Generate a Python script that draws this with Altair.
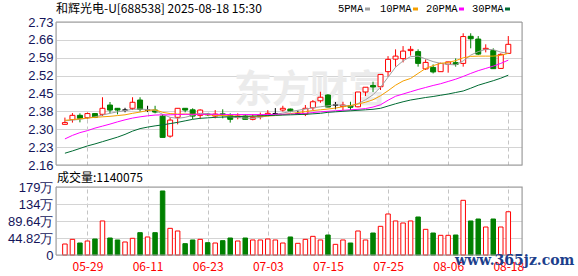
import json
import altair as alt
import pandas as pd

# ---------------- data ----------------
dates = ["05-26", "05-27", "05-28", "05-29", "05-30", "06-03", "06-04", "06-05", "06-06", "06-09",
         "06-10", "06-11", "06-12", "06-13", "06-16", "06-17", "06-18", "06-19", "06-20", "06-23",
         "06-24", "06-25", "06-26", "06-27", "06-30", "07-01", "07-02", "07-03", "07-04", "07-07",
         "07-08", "07-09", "07-10", "07-11", "07-14", "07-15", "07-16", "07-17", "07-18", "07-21",
         "07-22", "07-23", "07-24", "07-25", "07-28", "07-29", "07-30", "07-31", "08-01", "08-04",
         "08-05", "08-06", "08-07", "08-08", "08-11", "08-12", "08-13", "08-14", "08-15", "08-18"]

opens = [2.322, 2.341, 2.358, 2.349, 2.365, 2.362, 2.399, 2.386, 2.379, 2.386,
         2.419, 2.379, 2.379, 2.355, 2.275, 2.350, 2.386, 2.380, 2.358, 2.363,
         2.355, 2.364, 2.357, 2.350, 2.355, 2.342, 2.353, 2.359, 2.365, 2.379,
         2.383, 2.365, 2.363, 2.388, 2.416, 2.439, 2.399, 2.393, 2.397, 2.392,
         2.451, 2.477, 2.472, 2.532, 2.582, 2.584, 2.616, 2.612, 2.543, 2.549,
         2.532, 2.562, 2.568, 2.565, 2.673, 2.662, 2.621, 2.616, 2.545, 2.605]
highs = [2.349, 2.367, 2.366, 2.369, 2.367, 2.430, 2.411, 2.387, 2.388, 2.430,
         2.430, 2.396, 2.396, 2.362, 2.350, 2.386, 2.386, 2.386, 2.382, 2.366,
         2.379, 2.382, 2.366, 2.366, 2.362, 2.363, 2.369, 2.379, 2.387, 2.396,
         2.385, 2.377, 2.399, 2.419, 2.452, 2.442, 2.411, 2.412, 2.412, 2.451,
         2.470, 2.492, 2.521, 2.594, 2.621, 2.634, 2.634, 2.621, 2.581, 2.561,
         2.568, 2.571, 2.585, 2.685, 2.685, 2.674, 2.641, 2.625, 2.605, 2.674]
lows = [2.322, 2.329, 2.330, 2.343, 2.347, 2.355, 2.366, 2.362, 2.370, 2.379,
        2.373, 2.371, 2.366, 2.270, 2.269, 2.322, 2.370, 2.343, 2.343, 2.356,
        2.346, 2.346, 2.329, 2.342, 2.342, 2.338, 2.342, 2.355, 2.360, 2.373,
        2.370, 2.361, 2.355, 2.379, 2.408, 2.390, 2.382, 2.379, 2.379, 2.390,
        2.435, 2.451, 2.459, 2.512, 2.552, 2.569, 2.596, 2.552, 2.539, 2.525,
        2.532, 2.528, 2.552, 2.552, 2.625, 2.598, 2.609, 2.543, 2.545, 2.605]
closes = [2.329, 2.358, 2.346, 2.365, 2.350, 2.386, 2.379, 2.379, 2.379, 2.410,
          2.382, 2.379, 2.371, 2.270, 2.339, 2.386, 2.379, 2.355, 2.379, 2.360,
          2.363, 2.361, 2.342, 2.355, 2.342, 2.350, 2.359, 2.366, 2.365, 2.386,
          2.375, 2.365, 2.386, 2.412, 2.430, 2.391, 2.399, 2.399, 2.390, 2.451,
          2.470, 2.471, 2.521, 2.581, 2.594, 2.614, 2.621, 2.565, 2.569, 2.531,
          2.565, 2.571, 2.561, 2.672, 2.663, 2.602, 2.625, 2.544, 2.601, 2.641]

ma5 = [2.336, 2.339, 2.342, 2.347, 2.352, 2.359, 2.366, 2.372, 2.377, 2.382,
       2.383, 2.381, 2.378, 2.362, 2.350, 2.346, 2.350, 2.358, 2.366, 2.364,
       2.361, 2.356, 2.352, 2.349, 2.347, 2.346, 2.350, 2.356, 2.362, 2.367,
       2.373, 2.378, 2.383, 2.388, 2.392, 2.396, 2.400, 2.398, 2.395, 2.405,
       2.420, 2.440, 2.470, 2.510, 2.550, 2.575, 2.592, 2.594, 2.583, 2.572,
       2.565, 2.561, 2.559, 2.575, 2.598, 2.612, 2.621, 2.620, 2.610, 2.605]
ma10 = [2.338, 2.341, 2.344, 2.347, 2.350, 2.352, 2.354, 2.357, 2.360, 2.366,
        2.371, 2.377, 2.380, 2.370, 2.365, 2.363, 2.363, 2.362, 2.362, 2.360,
        2.358, 2.357, 2.356, 2.355, 2.354, 2.354, 2.354, 2.355, 2.357, 2.361,
        2.365, 2.369, 2.373, 2.377, 2.380, 2.383, 2.387, 2.392, 2.397, 2.403,
        2.410, 2.420, 2.436, 2.456, 2.478, 2.495, 2.505, 2.525, 2.545, 2.556,
        2.565, 2.569, 2.576, 2.587, 2.593, 2.594, 2.594, 2.594, 2.597, 2.605]
ma20 = [2.264, 2.278, 2.289, 2.297, 2.307, 2.315, 2.323, 2.332, 2.340, 2.347,
        2.352, 2.356, 2.359, 2.360, 2.360, 2.361, 2.362, 2.362, 2.362, 2.362,
        2.362, 2.362, 2.361, 2.361, 2.361, 2.361, 2.361, 2.361, 2.362, 2.362,
        2.363, 2.364, 2.366, 2.369, 2.372, 2.374, 2.376, 2.378, 2.380, 2.382,
        2.385, 2.391, 2.400, 2.418, 2.434, 2.443, 2.452, 2.461, 2.469, 2.477,
        2.484, 2.493, 2.502, 2.513, 2.525, 2.536, 2.545, 2.554, 2.565, 2.578]
ma30 = [2.207, 2.216, 2.226, 2.236, 2.244, 2.253, 2.262, 2.271, 2.282, 2.295,
        2.305, 2.311, 2.316, 2.320, 2.325, 2.330, 2.336, 2.342, 2.346, 2.348,
        2.350, 2.351, 2.352, 2.353, 2.354, 2.355, 2.356, 2.357, 2.358, 2.359,
        2.360, 2.361, 2.362, 2.364, 2.366, 2.370, 2.372, 2.374, 2.376, 2.378,
        2.380, 2.382, 2.386, 2.395, 2.404, 2.412, 2.419, 2.424, 2.429, 2.433,
        2.438, 2.443, 2.449, 2.455, 2.466, 2.478, 2.487, 2.496, 2.506, 2.518]

# volume in 万 (10k shares)
volumes = [29.0, 41.3, 31.6, 36.9, 42.2, 89.7, 44.8, 39.6, 34.3, 44.0,
           58.9, 47.5, 58.9, 168.8, 70.3, 63.3, 29.9, 39.6, 41.3, 32.5,
           31.6, 37.8, 44.8, 36.9, 44.8, 39.6, 39.6, 42.2, 39.6, 31.6,
           47.5, 30.8, 41.3, 49.2, 39.6, 52.7, 28.1, 39.6, 31.6, 63.3,
           39.6, 58.0, 75.6, 108.1, 89.7, 84.4, 89.7, 100.2, 67.7, 58.0,
           51.9, 51.9, 52.7, 144.2, 89.7, 94.9, 73.8, 94.9, 73.8, 114.0]

date_ticks = ["05-29", "06-11", "06-23", "07-03", "07-15", "07-25", "08-06", "08-18"]
price_tick_values = [2.16, 2.23125, 2.3025, 2.37375, 2.445, 2.51625, 2.5875, 2.65875, 2.73]
price_tick_labels = ["2.16", "2.23", "2.30", "2.38", "2.45", "2.52", "2.59", "2.66", "2.73"]
vol_tick_values = [0, 44.82, 89.64, 134.46, 179.28]
vol_tick_labels = ["0", "44.82万", "89.64万", "134万", "179万"]

title_text = "和辉光电-U[688538] 2025-08-18 15:30"
last_volume = "1140075"
ma_names = ["5PMA", "10PMA", "20PMA", "30PMA"]
ma_colors = ["#a0a0a0", "#f5a000", "#ff00ff", "#006b33"]

# ---------------- layout ----------------
W, H = 466, 233
PRICE_RANGE = [143, 0]
VOL_RANGE = [233, 165]
x_domain = [-0.52, 60.16]
p_domain = [price_tick_values[0], price_tick_values[-1]]
v_domain = [vol_tick_values[0], vol_tick_values[-1]]

n = len(dates)
df = pd.DataFrame({"i": list(range(n)), "open": opens, "high": highs, "low": lows,
                   "close": closes, "ma5": ma5, "ma10": ma10, "ma20": ma20, "ma30": ma30,
                   "vol": volumes})
df["dir"] = ["up" if c > o else ("down" if c < o else "flat") for o, c in zip(opens, closes)]
df["vdir"] = ["down" if c < o else "up" for o, c in zip(opens, closes)]

tick_idx = [dates.index(d) for d in date_ticks]
one = pd.DataFrame({"k": [0]})

xscale = alt.Scale(domain=x_domain, nice=False, zero=False)
xaxis = alt.Axis(values=tick_idx, labelExpr=f"{json.dumps(dates)}[datum.value]",
                 grid=True, gridDash=[4, 3], gridColor="#c4c4c4",
                 ticks=False, domain=False, labelColor="#ff0000",
                 labelFont="Noto Sans CJK SC", labelFontSize=12, labelPadding=6,
                 labelFlush=False, title=None, orient="bottom")

pscale = alt.Scale(domain=p_domain, range=PRICE_RANGE, nice=False, zero=False)
paxis = alt.Axis(values=price_tick_values,
                 labelExpr=f"{json.dumps(price_tick_labels)}[indexof({json.dumps(price_tick_values)}, datum.value)]",
                 orient="left", grid=True, gridColor="#d4d4d4", ticks=False, domain=False,
                 labelColor="#14145a", labelFont="Liberation Sans", labelFontSize=13,
                 labelPadding=3, labelFlush=False, labelOverlap=False, title=None)
vscale = alt.Scale(domain=v_domain, range=VOL_RANGE, nice=False, zero=True)
vaxis = alt.Axis(values=vol_tick_values,
                 labelExpr=f"{json.dumps(vol_tick_labels, ensure_ascii=False)}[indexof({json.dumps(vol_tick_values)}, datum.value)]",
                 orient="left", grid=True, gridColor="#d4d4d4", ticks=False, domain=False,
                 labelColor="#14145a", labelFont="Liberation Sans", labelFontSize=13,
                 labelPadding=3, labelFlush=False, labelOverlap=False, title=None)


def X(field="i:Q"):
    return alt.X(field, scale=xscale, axis=xaxis)


def PY(field):
    return alt.Y(field, scale=pscale, axis=paxis)


def VY(field):
    return alt.Y(field, scale=vscale, axis=vaxis)


dir_dom = ["up", "down", "flat"]
FILL = alt.Scale(domain=dir_dom, range=["#ffffff", "#008000", "#000000"])
STROKE = alt.Scale(domain=dir_dom, range=["#ff0000", "#008000", "#000000"])

base = alt.Chart(df)

# watermark
wm = alt.Chart(one).mark_text(text="东方财富", font="Noto Sans CJK SC", fontSize=38,
                              fontWeight="bold", color="#ebebeb", align="center",
                              baseline="middle").encode(x=alt.value(254), y=alt.value(69))

# white band between the two panels (hides the date guides there)
gap = alt.Chart(one).mark_rect(color="#ffffff").encode(
    x=alt.value(-1), x2=alt.value(W + 1), y=alt.value(PRICE_RANGE[0] + 1), y2=alt.value(VOL_RANGE[1] - 1))

wick = base.mark_rule(strokeWidth=1).encode(
    x=X(), y=PY("low:Q"), y2="high:Q",
    color=alt.Color("dir:N", scale=STROKE, legend=None))
body = base.mark_bar(size=5, strokeWidth=1).encode(
    x=X(), y=PY("open:Q"), y2="close:Q",
    fill=alt.Fill("dir:N", scale=FILL, legend=None),
    stroke=alt.Stroke("dir:N", scale=STROKE, legend=None))

ma_layers = []
for col, colr in zip(["ma5", "ma10", "ma20", "ma30"], ma_colors):
    ma_layers.append(base.mark_line(strokeWidth=1, color=colr).encode(
        x=X(), y=PY(f"{col}:Q")))

pborder = alt.Chart(one).mark_rect(filled=False, stroke="#999999", strokeWidth=1).encode(
    x=alt.value(0), x2=alt.value(W), y=alt.value(PRICE_RANGE[1]), y2=alt.value(PRICE_RANGE[0]))

title = alt.Chart(one).mark_text(text=title_text, font="Noto Sans CJK SC", fontSize=12,
                                 color="#000000", align="left", baseline="middle").encode(
    x=alt.value(0), y=alt.value(-13))

# legend (text then colour chip)
leg_text_x = [282, 324, 370, 416]
leg_chip_x = [309, 357, 403, 449]
legend_layers = []
for name, colr, tx, cx in zip(ma_names, ma_colors, leg_text_x, leg_chip_x):
    legend_layers.append(alt.Chart(one).mark_text(text=name, font="Liberation Mono", fontSize=10.5,
                                                  color="#000000", align="left", baseline="middle").encode(
        x=alt.value(tx), y=alt.value(-13)))
    legend_layers.append(alt.Chart(one).mark_rect(color=colr).encode(
        x=alt.value(cx), x2=alt.value(cx + 5), y=alt.value(-14.5), y2=alt.value(-11.5)))

price = alt.layer(wm, wick, body, *ma_layers, pborder, title, *legend_layers)

# volume panel
vbars = base.mark_bar(size=4.5, strokeWidth=1).encode(
    x=X(), y=VY("vol:Q"),
    fill=alt.Fill("vdir:N", scale=FILL, legend=None),
    stroke=alt.Stroke("vdir:N", scale=STROKE, legend=None))
vborder = alt.Chart(one).mark_rect(filled=False, stroke="#999999", strokeWidth=1).encode(
    x=alt.value(0), x2=alt.value(W), y=alt.value(VOL_RANGE[1]), y2=alt.value(VOL_RANGE[0]))
vtitle = alt.Chart(one).mark_text(text="成交量:" + last_volume, font="Noto Sans CJK SC", fontSize=12,
                                  color="#000000", align="left", baseline="middle").encode(
    x=alt.value(1), y=alt.value(155.5))
site = alt.Chart(one).mark_text(text="www.365jz.com", font="DejaVu Serif", fontSize=14,
                                fontWeight="bold", color="#1d3f8c", align="left",
                                baseline="middle").encode(x=alt.value(399), y=alt.value(239))

volume = alt.layer(gap, vbars, vborder, vtitle, site)

chart = alt.layer(price, volume).resolve_scale(y="independent").properties(
    width=W, height=H,
    autosize=alt.AutoSizeParams(type="none"),
    padding={"left": 56, "top": 22, "right": 56, "bottom": 21},
).configure_view(strokeWidth=0).configure(background="#ffffff")

chart.save("out.html", embed_options={"renderer": "svg", "actions": False})
